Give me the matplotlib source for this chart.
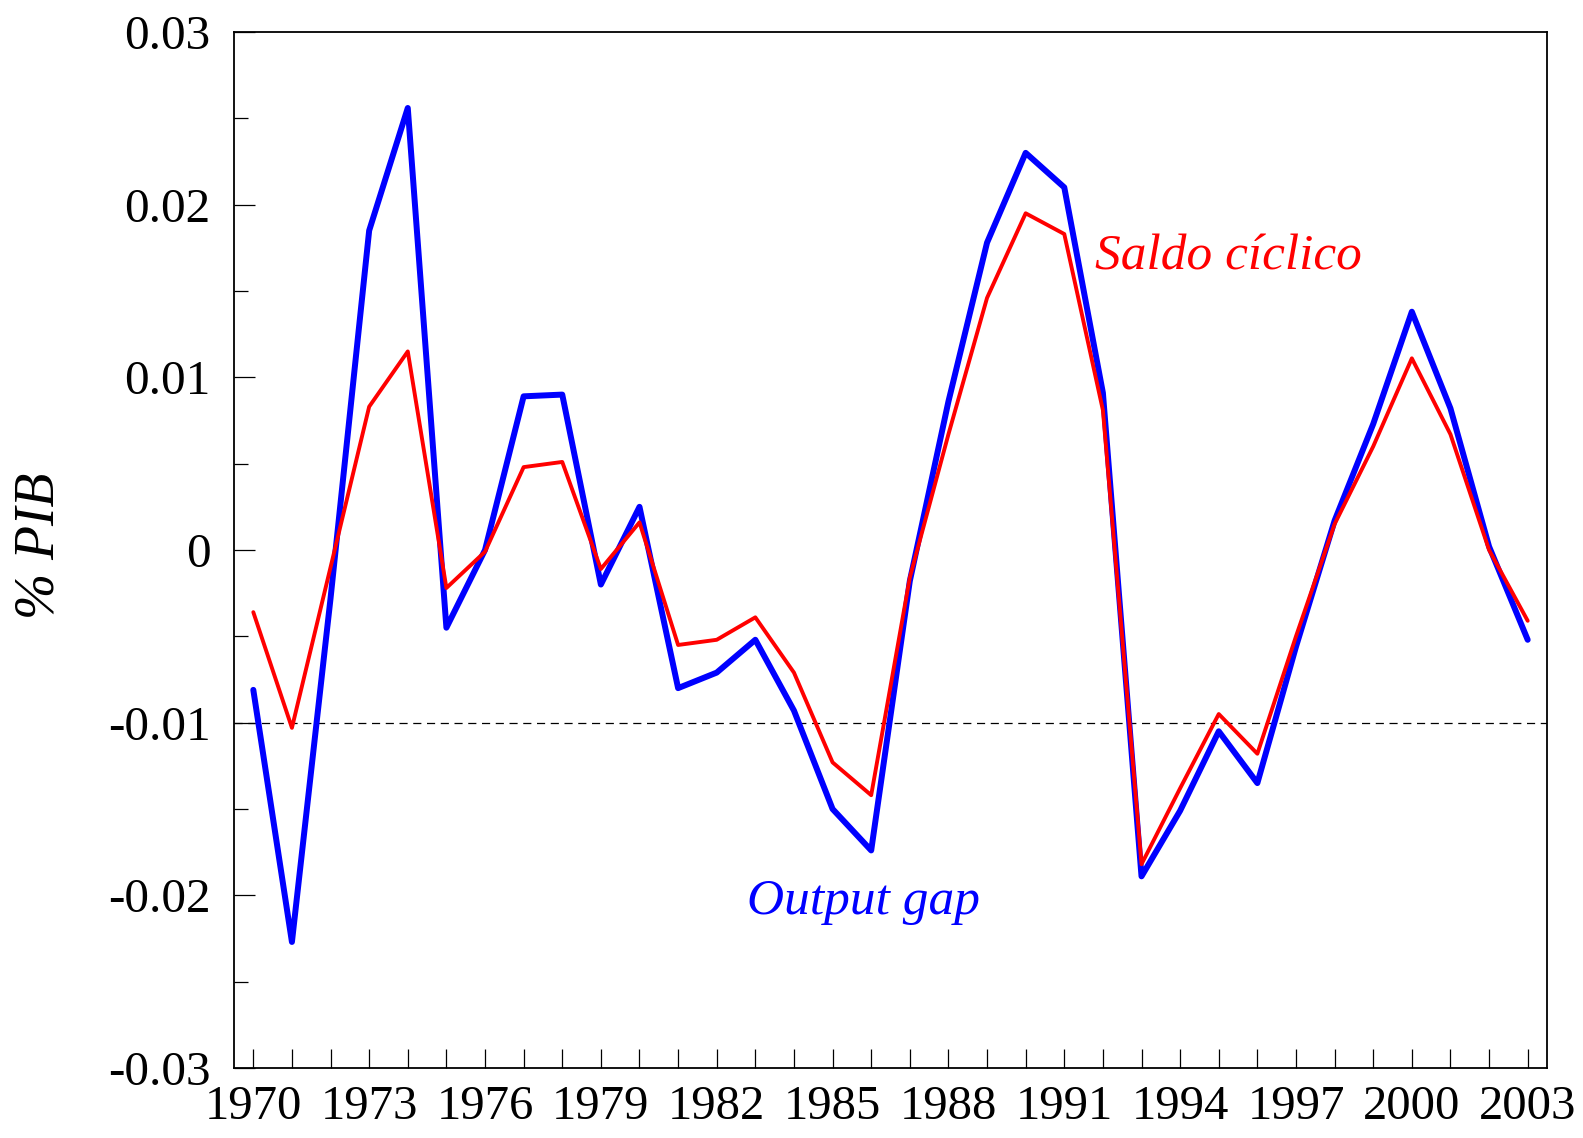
import matplotlib
matplotlib.use("Agg")
import matplotlib.pyplot as plt
from matplotlib.ticker import MultipleLocator, FixedLocator

plt.rcParams['font.family'] = ['Liberation Serif', 'DejaVu Serif']
plt.rcParams['axes.unicode_minus'] = False

years = list(range(1970, 2004))
output_gap = [-0.0081, -0.0227, -0.0028, 0.0185, 0.0256, -0.0045, 0.0000, 0.0089, 0.0090,
              -0.0020, 0.0025, -0.0080, -0.0071, -0.0052, -0.0093, -0.0150, -0.0174,
              -0.0018, 0.0086, 0.0178, 0.0230, 0.0210, 0.0091, -0.0189, -0.0151,
              -0.0105, -0.0135, -0.0056, 0.0017, 0.0073, 0.0138, 0.0082, 0.0002, -0.0052]
saldo_ciclico = [-0.0036, -0.0103, -0.0010, 0.0083, 0.0115, -0.0022, -0.0001, 0.0048, 0.0051,
                 -0.0011, 0.0016, -0.0055, -0.0052, -0.0039, -0.0071, -0.0123, -0.0142,
                 -0.0016, 0.0067, 0.0146, 0.0195, 0.0183, 0.0081, -0.0182, -0.0138,
                 -0.0095, -0.0118, -0.0050, 0.0015, 0.0060, 0.0111, 0.0067, 0.0000, -0.0041]
xtick_years = list(range(1970, 2004, 3))
ytick_vals = [-0.03, -0.02, -0.01, 0.0, 0.01, 0.02, 0.03]
ytick_labels = ['-0.03', '-0.02', '-0.01', '0', '0.01', '0.02', '0.03']
ref_level = -0.01

W, H = 1583, 1138
fig = plt.figure(figsize=(W / 100, H / 100), dpi=100)
ax = fig.add_axes([234 / W, 1 - 1068 / H, (1547 - 234) / W, (1068 - 32) / H])

ax.axhline(ref_level, color='black', lw=0.9, linestyle=(0, (6.5, 4.5)), zorder=1)
ax.plot(years, output_gap, color='#0000ff', lw=4.3, solid_joinstyle='round',
        solid_capstyle='round', zorder=2)
ax.plot(years, saldo_ciclico, color='#ff0000', lw=2.8, solid_joinstyle='round',
        solid_capstyle='round', zorder=3)

ax.set_xlim(1969.5, 2003.5)
ax.set_ylim(-0.03, 0.03)

ax.xaxis.set_major_locator(FixedLocator(xtick_years))
ax.xaxis.set_minor_locator(FixedLocator(years))
ax.set_xticks(xtick_years)
ax.set_xticklabels([str(y) for y in xtick_years])
ax.set_yticks(ytick_vals)
ax.set_yticklabels(ytick_labels)
ax.yaxis.set_minor_locator(MultipleLocator(0.005))

ax.tick_params(axis='x', which='both', direction='in', length=14, width=0.9,
               labelsize=35, pad=12, top=False)
ax.tick_params(axis='y', which='major', direction='in', length=15, width=0.9,
               labelsize=35.5, pad=17, right=False)
ax.tick_params(axis='y', which='minor', direction='in', length=10, width=0.9, right=False)

for s in ax.spines.values():
    s.set_linewidth(1.3)

fig.text(40 / W, 1 - 546 / H, '% PIB', rotation=90, ha='center', va='center',
         fontsize=40, style='italic')

ax.text((1095 - 234) / 1313, (1068 - 270) / 1036, 'Saldo cíclico', transform=ax.transAxes,
        color='#ff0000', fontsize=37, style='italic', ha='left', va='baseline')
ax.text((747 - 234) / 1313, (1068 - 914) / 1036, 'Output gap', transform=ax.transAxes,
        color='#0000ff', fontsize=37, style='italic', ha='left', va='baseline')

fig.savefig('out.png', dpi=100, facecolor='white')
